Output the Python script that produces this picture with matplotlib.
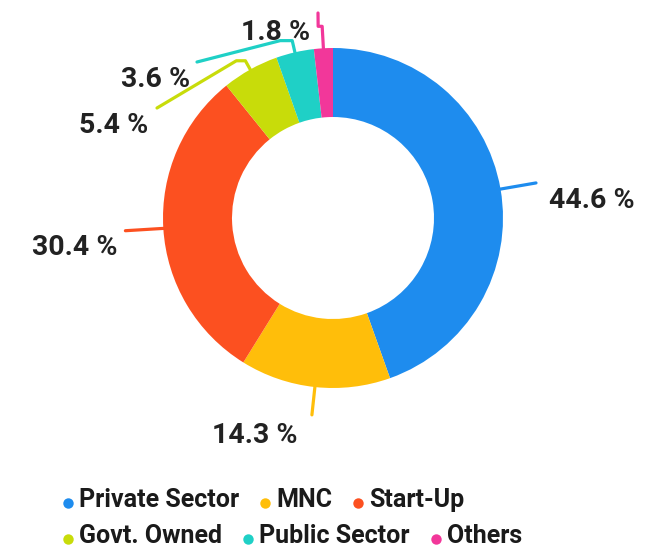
import numpy as np
import matplotlib
matplotlib.use("Agg")
import matplotlib.pyplot as plt

categories = ["Private Sector", "MNC", "Start-Up", "Govt. Owned", "Public Sector", "Others"]
shares = [44.6, 14.3, 30.4, 5.4, 3.6, 1.8]
pct_labels = ["44.6 %", "14.3 %", "30.4 %", "5.4 %", "3.6 %", "1.8 %"]
colors = ["#1E8CEE", "#FFBE0A", "#FC5020", "#C8DC0A", "#1FD0C6", "#F2379A"]

W, H = 654, 552
CX, CY = 333, H - 218  # donut centre, pixel units (y up)
R_OUT, RING = 170, 69

# label placement: (x, baseline y from top, ha)
label_pos = [(549, 208, "left"), (298, 443, "right"), (118, 255, "right"),
             (148, 133, "right"), (190, 87, "right"), (310, 40, "right")]
# leader shape per slice: radial length, horizontal hook, end point (from top)
leaders = [(36, 0, None), (28, 0, None), (38, 0, None),
           (10, -9, (157, 108)), (12, -12, (197, 62)), (22, -4, (318, 13))]

FONT, PCT_SIZE, LEG_SIZE = "Roboto", 20.5, 18

fig = plt.figure(figsize=(W / 100, H / 100), dpi=100)
ax = fig.add_axes([0, 0, 1, 1])
wedges, _ = ax.pie(shares, colors=colors, startangle=90, counterclock=False,
                   radius=R_OUT, center=(CX, CY),
                   wedgeprops=dict(width=RING, linewidth=0))
ax.set_xlim(0, W)
ax.set_ylim(0, H)
ax.set_aspect("equal")
ax.axis("off")

for w, col, lab, (lx, ly, ha), (rlen, hook, end) in zip(wedges, colors, pct_labels, label_pos, leaders):
    ang = np.deg2rad((w.theta1 + w.theta2) / 2)
    d = np.array([np.cos(ang), np.sin(ang)])
    p0 = np.array([CX, CY]) + d * (R_OUT - 2)
    p1 = np.array([CX, CY]) + d * (R_OUT + rlen)
    pts = [p0, p1]
    if hook:
        pts.append(p1 + np.array([hook, 0]))
    if end is not None:
        pts.append(np.array([end[0], H - end[1]]))
    pts = np.array(pts)
    ax.plot(pts[:, 0], pts[:, 1], color=col, lw=2.3, solid_capstyle="round",
            solid_joinstyle="round", zorder=1)
    ax.text(lx, H - ly, lab, ha=ha, va="baseline", fontsize=PCT_SIZE,
            fontweight="bold", family=FONT, color="#222222")

# legend, flowed in two rows like the original
fig.canvas.draw()
renderer = fig.canvas.get_renderer()
rows = [(range(0, 3), 507), (range(3, 6), 543)]
for idx, base in rows:
    x = 68
    for i in idx:
        ax.plot([x], [H - base + 4], "o", ms=7.5, color=colors[i], mec="none")
        t = ax.text(x + 11, H - base, categories[i], ha="left", va="baseline",
                    fontsize=LEG_SIZE, fontweight="bold", family=FONT, color="#1a1a1a")
        bb = t.get_window_extent(renderer)
        x = bb.x1 + 26

fig.savefig("out.png", dpi=100, facecolor="white")
